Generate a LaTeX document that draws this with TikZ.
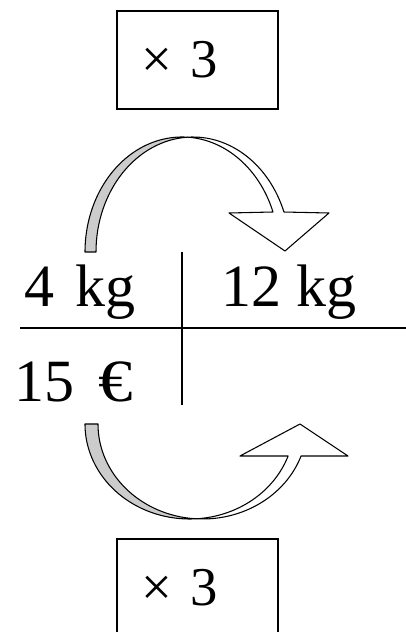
\documentclass[tikz,border=0pt]{standalone}
\usepackage{fontspec}
\setmainfont{Liberation Serif}
\begin{document}
\begin{tikzpicture}[x=0.75pt,y=0.75pt,
    factorbox/.style={draw, line width=1pt, minimum width=120.75pt,
      minimum height=73.5pt, inner xsep=18pt, text width=84pt, align=left,
      font=\fontsize{41}{41}\selectfont},
    entry/.style={anchor=base west, inner sep=0pt,
      font=\fontsize{45}{45}\selectfont},
    bendarrow/.style={draw=black, line width=0.8pt, line join=round}]
    \clip (0,0) rectangle (406,632);

    % Define node positions
    \node[factorbox] (top) at (197.5,572) {× 3};
    \node[factorbox] (bottom) at (197.5,44) {× 3};
    \node[entry] (a) at (24,325) {4\hspace{0.35em}kg};
    \node[entry] (b) at (221,325) {12 kg};
    \node[entry] (c) at (14,230) {15\hspace{0.4em}\scalebox{1.15}[1]{€}};

    % Draw the table
    \coordinate (hl) at (20,304); \coordinate (hr) at (406,304);
    \coordinate (vt) at (182,380); \coordinate (vb) at (182,227);
    \draw[line width=1pt] (hl) -- (hr);
    \draw[line width=1pt] (vt) -- (vb);

    % Upper curved arrow
    \path[fill=gray!40, bendarrow] (85,380) arc[start angle=180,
      end angle=86.75, x radius=97, y radius=115] arc[start angle=93.25,
      end angle=180, x radius=97, y radius=115] -- cycle;
    \path[fill=white, bendarrow] (187.5,494.8) arc[start angle=93.25,
      end angle=20.35, x radius=97, y radius=115] -- (329,419)
      -- (285,381) -- (229,419) -- (273,420) arc[start angle=20.35,
      end angle=86.75, x radius=97, y radius=115] -- cycle;

    % Lower curved arrow
    \path[fill=gray!40, bendarrow] (85,208) arc[start angle=180,
      end angle=273.56, x radius=104.6, y radius=95] arc[start angle=266.44,
      end angle=180, x radius=104.6, y radius=95] -- cycle;
    \path[fill=white, bendarrow] (196.1,113.2) arc[start angle=266.44,
      end angle=340.31, x radius=104.6, y radius=95] -- (348,176)
      -- (300,208) -- (240,176) -- (288.1,176) arc[start angle=340.31,
      end angle=273.56, x radius=104.6, y radius=95] -- cycle;
\end{tikzpicture}
\end{document}
